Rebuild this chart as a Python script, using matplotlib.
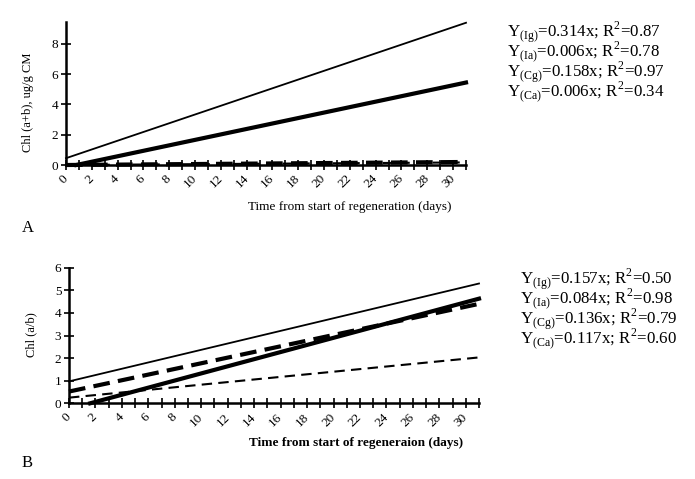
import numpy as np
import matplotlib.pyplot as plt
import matplotlib.transforms as mtransforms

plt.rcParams['font.family'] = ['Liberation Serif', 'DejaVu Serif']
plt.rcParams['mathtext.fontset'] = 'custom'
plt.rcParams['mathtext.rm'] = 'Liberation Serif'

# trend lines: (x start, y start, x end, y end)
days = np.arange(0, 32)
xtick_labels = [str(d) if d % 2 == 0 and d <= 30 else '' for d in days]

a_lines = {
    'Ig': (0.0, 0.45, 31.0, 9.40),
    'Cg': (0.8, 0.00, 31.0, 5.45),
    'Ia': (0.0, 0.00, 31.0, 0.20),
    'Ca': (0.0, 0.00, 31.0, 0.17),
}
b_lines = {
    'Ig': (0.0, 0.97, 31.0, 5.30),
    'Cg': (1.6, 0.00, 31.0, 4.63),
    'Ia': (0.0, 0.52, 31.0, 4.40),
    'Ca': (0.0, 0.25, 31.0, 2.03),
}
styles = {
    'Ig': dict(lw=1.3, ls='-'),
    'Cg': dict(lw=3.0, ls='-'),
    'Ia': dict(lw=3.0, ls=(0, (4, 2))),
    'Ca': dict(lw=1.5, ls=(0, (5, 3))),
}

eq_a = [r'Y$_{\rm (Ig)}$=0.314x; R$^{2}$=0.87',
        r'Y$_{\rm (Ia)}$=0.006x; R$^{2}$=0.78',
        r'Y$_{\rm (Cg)}$=0.158x; R$^{2}$=0.97',
        r'Y$_{\rm (Ca)}$=0.006x; R$^{2}$=0.34']
eq_b = [r'Y$_{\rm (Ig)}$=0.157x; R$^{2}$=0.50',
        r'Y$_{\rm (Ia)}$=0.084x; R$^{2}$=0.98',
        r'Y$_{\rm (Cg)}$=0.136x; R$^{2}$=0.79',
        r'Y$_{\rm (Ca)}$=0.117x; R$^{2}$=0.60']

W, H = 695, 479
fig = plt.figure(figsize=(W / 100, H / 100), dpi=100)


def px(x, y):
    return x / W, 1 - y / H


def setup(ax, ymax, yticks):
    ax.set_xlim(0, 31)
    ax.set_ylim(0, ymax)
    for s in ['top', 'right']:
        ax.spines[s].set_visible(False)
    for s in ['left', 'bottom']:
        ax.spines[s].set_linewidth(1.8)
    ax.set_xticks(days)
    ax.set_xticklabels(xtick_labels, rotation=45, ha='right', va='center',
                       rotation_mode='anchor', fontsize=9.5)
    # shift the slanted labels a bit to the left, like the original
    shift = mtransforms.ScaledTranslation(-4 / 100, -2 / 100, fig.dpi_scale_trans)
    for lab in ax.get_xticklabels():
        lab.set_transform(lab.get_transform() + shift)
    ax.set_yticks(yticks)
    ax.tick_params(axis='both', direction='inout', length=7, width=1.2)
    ax.tick_params(axis='y', labelsize=9.5, pad=2)
    ax.tick_params(axis='x', pad=5)


axA = fig.add_axes([66 / W, 1 - 165 / H, 400 / W, 143 / H])
setup(axA, 9.45, [0, 2, 4, 6, 8])
for k, (x0, y0, x1, y1) in a_lines.items():
    axA.plot([x0, x1], [y0, y1], color='black', clip_on=False, **styles[k])

axB = fig.add_axes([69 / W, 1 - 403.3 / H, 410 / W, 135.6 / H])
setup(axB, 6, [0, 1, 2, 3, 4, 5, 6])
for k, (x0, y0, x1, y1) in b_lines.items():
    axB.plot([x0, x1], [y0, y1], color='black', clip_on=False, **styles[k])

fig.text(*px(28, 102), 'Chl (a+b), ug/g CM', rotation=90, ha='center',
         va='center', fontsize=9)
fig.text(*px(31, 335), 'Chl (a/b)', rotation=90, ha='center',
         va='center', fontsize=9)
fig.text(*px(350, 207), 'Time from start of regeneration (days)',
         ha='center', va='center', fontsize=9.5)
fig.text(*px(356, 443), 'Time from start of regeneraion (days)',
         ha='center', va='center', fontsize=9.5, fontweight='bold')
fig.text(*px(22, 228), 'A', ha='left', va='center', fontsize=12)
fig.text(*px(22, 463), 'B', ha='left', va='center', fontsize=12)

for i, t in enumerate(eq_a):
    fig.text(*px(507, 32 + 20 * i), t, ha='left', va='center', fontsize=12.2)
for i, t in enumerate(eq_b):
    fig.text(*px(520, 279 + 20 * i), t, ha='left', va='center', fontsize=12.2)

fig.savefig('out.png', dpi=100)
